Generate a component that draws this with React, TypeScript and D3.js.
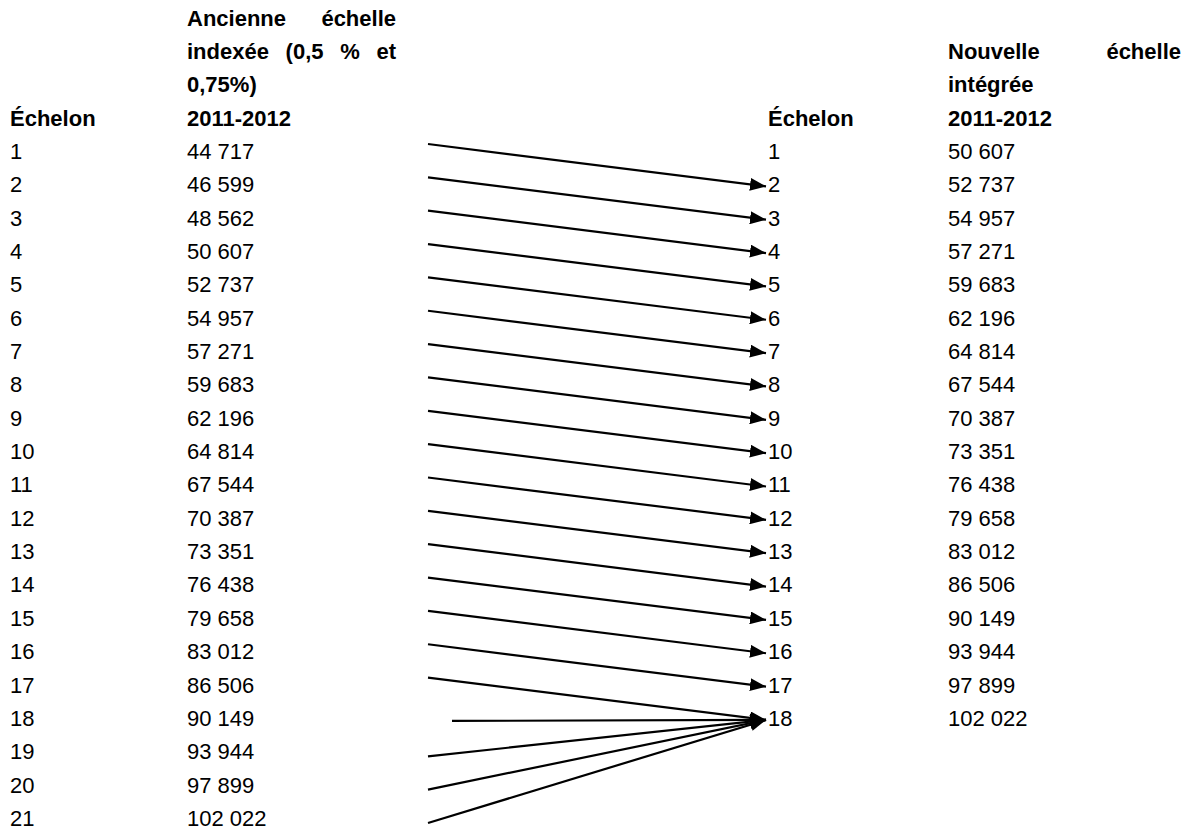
import React, { useEffect, useRef } from "react";
import * as d3 from "d3";

// ---- Data ----
const oldEchelons = [1, 2, 3, 4, 5, 6, 7, 8, 9, 10, 11, 12, 13, 14, 15, 16, 17, 18, 19, 20, 21];
const oldValues = [
  44717, 46599, 48562, 50607, 52737, 54957, 57271, 59683, 62196, 64814, 67544,
  70387, 73351, 76438, 79658, 83012, 86506, 90149, 93944, 97899, 102022,
];
const newEchelons = [1, 2, 3, 4, 5, 6, 7, 8, 9, 10, 11, 12, 13, 14, 15, 16, 17, 18];
const newValues = [
  50607, 52737, 54957, 57271, 59683, 62196, 64814, 67544, 70387, 73351, 76438,
  79658, 83012, 86506, 90149, 93944, 97899, 102022,
];
// target echelon (new scale) of the arrow leaving each old echelon
const arrowTargets = [2, 3, 4, 5, 6, 7, 8, 9, 10, 11, 12, 13, 14, 15, 16, 17, 18, 18, 18, 18, 18];

const echelonLabel = "Échelon";
const leftHeaderLines = [["Ancienne", "échelle"], ["indexée", "(0,5", "%", "et"], ["0,75%)"], ["2011-2012"]];
const rightHeaderLines = [["Nouvelle", "échelle"], ["intégrée"], ["2011-2012"]];

const W = 1191;
const H = 834;
const FONT = "'Liberation Sans', Arial, sans-serif";
const FS = 22;

export default function App() {
  const ref = useRef<SVGSVGElement | null>(null);

  useEffect(() => {
    document.body.style.margin = "0";
    const svg = d3.select(ref.current);
    svg.selectAll("*").remove();

    const y = d3.scaleLinear().domain([1, 21]).range([151, 818]);
    const fmt = d3
      .formatLocale({ decimal: ",", thousands: " ", grouping: [3], currency: ["", ""] })
      .format(",d");

    const colLeftEch = 10;
    const colLeftVal = 187;
    const colLeftValRight = 396;
    const colRightEch = 768;
    const colRightVal = 948;
    const colRightValRight = 1181;
    const arrowStartX = 428;
    const arrowEndX = 766;

    const defs = svg.append("defs");
    defs
      .append("marker")
      .attr("id", "ah")
      .attr("viewBox", "0 0 16 13")
      .attr("refX", 16)
      .attr("refY", 6.5)
      .attr("markerWidth", 16)
      .attr("markerHeight", 13)
      .attr("markerUnits", "userSpaceOnUse")
      .attr("orient", "auto")
      .append("path")
      .attr("d", "M0,0 L16,6.5 L0,13 Z")
      .attr("fill", "#000");

    const g = svg.append("g").attr("font-family", FONT).attr("font-size", FS).attr("fill", "#000");

    const textAt = (x: number, row: number, s: string, bold = false) =>
      g
        .append("text")
        .attr("x", x)
        .attr("y", y(row))
        .attr("dy", "0.36em")
        .attr("font-weight", bold ? "bold" : "normal")
        .text(s);

    const header = (lines: string[][], x0: number, x1: number) => {
      const n = lines.length;
      lines.forEach((words, i) => {
        const row = i - (n - 1);
        if (words.length === 1) {
          textAt(x0, row, words[0], true);
          return;
        }
        const nodes = words.map((w) => textAt(0, row, w, true));
        const widths = nodes.map((nd) => (nd.node() as SVGTextElement).getComputedTextLength());
        const gap = (x1 - x0 - d3.sum(widths)) / (words.length - 1);
        let x = x0;
        nodes.forEach((nd, k) => {
          nd.attr("x", x);
          x += widths[k] + gap;
        });
      });
    };

    // headers
    textAt(colLeftEch, 0, echelonLabel, true);
    header(leftHeaderLines, colLeftVal, colLeftValRight);
    textAt(colRightEch, 0, echelonLabel, true);
    header(rightHeaderLines, colRightVal, colRightValRight);

    // rows
    oldEchelons.forEach((e, i) => {
      textAt(colLeftEch, e, String(e));
      textAt(colLeftVal, e, fmt(oldValues[i]));
    });
    newEchelons.forEach((e, i) => {
      textAt(colRightEch, e, String(e));
      textAt(colRightVal, e, fmt(newValues[i]));
    });

    // arrows
    const ag = svg.append("g");
    oldEchelons.forEach((e, i) => {
      const t = arrowTargets[i];
      const startOff = e > 18 ? 5 : e === 18 ? 3 : -7;
      ag.append("line")
        .attr("x1", e === 18 ? arrowStartX + 24 : arrowStartX)
        .attr("y1", y(e) + startOff)
        .attr("x2", arrowEndX)
        .attr("y2", y(t) + 2)
        .attr("stroke", "#000")
        .attr("stroke-width", 2.2)
        .attr("marker-end", "url(#ah)");
    });
  }, []);

  return (
    <svg
      ref={ref}
      width={W}
      height={H}
      style={{ display: "block", background: "#fff" }}
    />
  );
}
